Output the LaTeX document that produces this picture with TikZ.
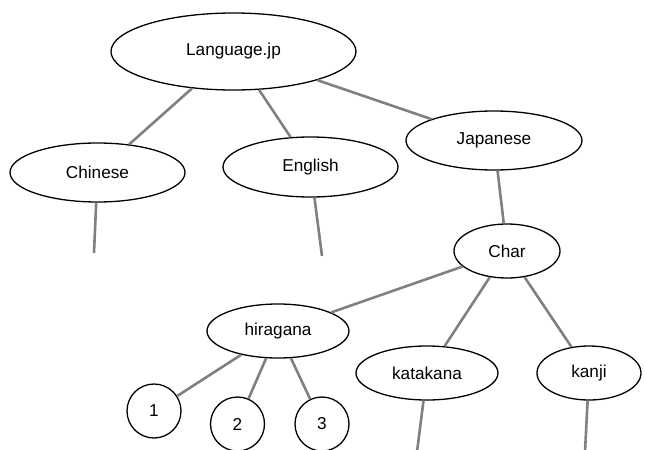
\documentclass[tikz,border=0pt]{standalone}
\usepackage{fontspec}
\setmainfont{Liberation Sans}
\usetikzlibrary{shapes.geometric}
\begin{document}
\begin{tikzpicture}[x=1pt,y=-1pt,
  ell/.style={draw=black,line width=1.3pt,ellipse,inner sep=0pt,font=\fontsize{17.2}{19}\selectfont},
  circ/.style={draw=black,line width=1.3pt,circle,inner sep=0pt,minimum size=54pt,font=\fontsize{17.2}{19}\selectfont},
  link/.style={draw=gray,line width=2.6pt}]
\useasboundingbox (0,0) rectangle (646,450);
\node[ell,minimum width=245pt,minimum height=77pt] (lang) at (233.5,51.5) {Language.jp};
\node[ell,minimum width=175pt,minimum height=59pt] (chinese) at (97.5,172.5) {Chinese};
\node[ell,minimum width=175pt,minimum height=60pt] (english) at (310.5,167) {English};
\node[ell,minimum width=176pt,minimum height=59pt] (japanese) at (494,140.5) {Japanese};
\node[ell,minimum width=106pt,minimum height=54pt] (char) at (507,251) {Char};
\node[ell,minimum width=142pt,minimum height=54pt] (hira) at (278,331) {hiragana};
\node[ell,minimum width=142pt,minimum height=54pt] (kata) at (427,373) {katakana};
\node[ell,minimum width=104pt,minimum height=54pt] (kanji) at (589,373) {kanji};
\node[circ] (n1) at (154,411) {1};
\node[circ] (n2) at (237.5,424) {2};
\node[circ] (n3) at (322,424) {3};
\coordinate (cend) at (94,253);
\coordinate (eend) at (322,256);
\coordinate (kaend) at (417,452);
\coordinate (kjend) at (585,452);
\draw[link] (lang) -- (chinese);
\draw[link] (lang) -- (english);
\draw[link] (lang) -- (japanese);
\draw[link] (chinese) -- (cend);
\draw[link] (english) -- (eend);
\draw[link] (japanese) -- (char);
\draw[link] (char) -- (hira);
\draw[link] (char) -- (kata);
\draw[link] (char) -- (kanji);
\draw[link] (hira) -- (n1);
\draw[link] (hira) -- (n2);
\draw[link] (hira) -- (n3);
\draw[link] (kata) -- (kaend);
\draw[link] (kanji) -- (kjend);
\end{tikzpicture}
\end{document}
